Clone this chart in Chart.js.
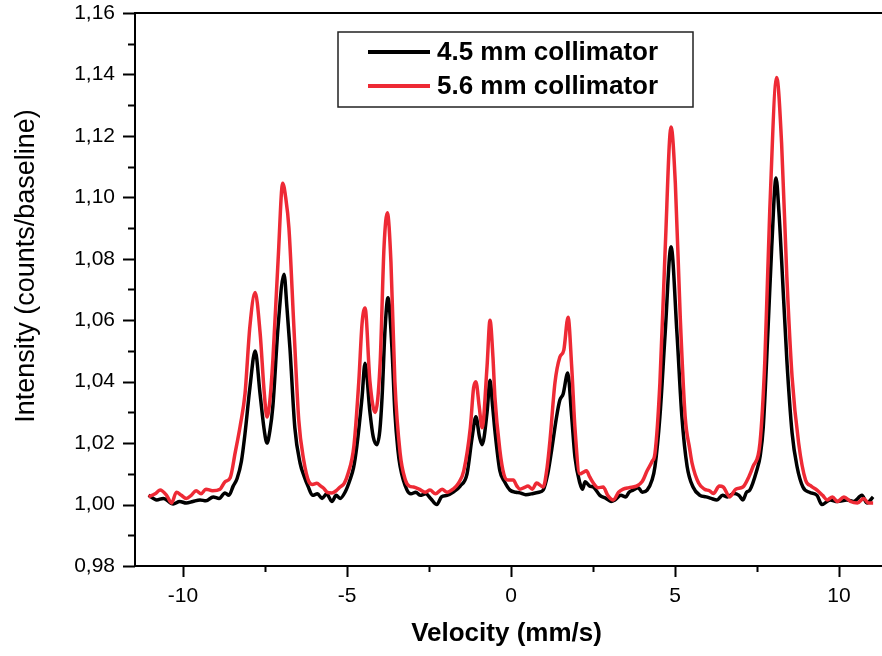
<!DOCTYPE html>
<html>
<head>
<meta charset="utf-8">
<title>Mössbauer spectra</title>
<script src="https://cdn.jsdelivr.net/npm/chart.js@4.4.0/dist/chart.umd.min.js"></script>
<style>
    html, body { margin: 0; padding: 0; background: #fff; }
    #wrap { width: 882px; height: 656px; position: relative; }
</style>
</head>
<body>
<div id="wrap"><canvas id="spectrum"></canvas></div>
<script>
// 4.5 mm collimator: velocity (mm/s) / intensity (counts/baseline)
const velocityBlack = [
    -11.05, -10.8, -10.6, -10.3, -10.1, -9.9, -9.7, -9.48, -9.3, -9.08, -8.9, -8.72, -8.6, -8.47, -8.35, -8.22,
    -8.11, -7.96, -7.8, -7.65, -7.52, -7.44, -7.35, -7.26, -7.1, -6.92, -6.83, -6.74, -6.59, -6.43, -6.3, -6.19,
    -6.05, -5.9, -5.76, -5.62, -5.46, -5.33, -5.21, -5.06, -4.91, -4.8, -4.7, -4.54, -4.45, -4.3, -4.2, -4.09,
    -4.0, -3.93, -3.84, -3.75, -3.63, -3.54, -3.45, -3.38, -3.17, -3.05, -2.9, -2.77, -2.6, -2.45, -2.26, -2.12,
    -1.95, -1.77, -1.55, -1.34, -1.19, -1.07, -0.96, -0.88, -0.73, -0.64, -0.56, -0.49, -0.34, -0.2, -0.03, 0.15,
    0.27, 0.45, 0.68, 0.85, 0.98, 1.12, 1.24, 1.39, 1.49, 1.59, 1.73, 1.85, 1.95, 2.1, 2.18, 2.26,
    2.4, 2.51, 2.71, 2.9, 3.05, 3.17, 3.35, 3.5, 3.6, 3.72, 3.88, 4.0, 4.15, 4.3, 4.39, 4.54,
    4.7, 4.88, 5.06, 5.21, 5.37, 5.55, 5.76, 5.95, 6.1, 6.28, 6.45, 6.6, 6.79, 6.95, 7.07, 7.18,
    7.28, 7.49, 7.6, 7.69, 7.84, 7.95, 8.08, 8.17, 8.25, 8.41, 8.57, 8.72, 8.9, 9.1, 9.33, 9.48,
    9.73, 9.95, 10.24, 10.45, 10.7, 10.85, 11.04
];
const intensityBlack = [
    1.003, 1.0015, 1.002, 1.0002, 1.001, 1.0005, 1.001, 1.0015, 1.0012, 1.0025, 1.002, 1.0038, 1.003, 1.006, 1.0085, 1.014,
    1.023, 1.038, 1.050, 1.036, 1.024, 1.020, 1.024, 1.032, 1.058, 1.075, 1.064, 1.051, 1.025, 1.0135, 1.009, 1.006,
    1.003, 1.0035, 1.002, 1.0035, 1.001, 1.003, 1.002, 1.004, 1.008, 1.012, 1.019, 1.035, 1.046, 1.030, 1.022, 1.0195,
    1.024, 1.035, 1.057, 1.0673, 1.051, 1.030, 1.018, 1.0124, 1.0047, 1.0035, 1.004, 1.003, 1.0035, 1.002, 1.000, 1.0025,
    1.003, 1.004, 1.006, 1.010, 1.0215, 1.0286, 1.022, 1.0195, 1.030, 1.0405, 1.032, 1.024, 1.011, 1.0075, 1.0047, 1.004,
    1.0038, 1.0032, 1.0036, 1.004, 1.0047, 1.010, 1.0178, 1.0286, 1.034, 1.036, 1.0428, 1.0286, 1.0155, 1.007, 1.005, 1.0074,
    1.006, 1.0057, 1.003, 1.002, 1.001, 1.0015, 1.003, 1.0025, 1.004, 1.0047, 1.0055, 1.004, 1.0047, 1.008, 1.0124, 1.0286,
    1.0557, 1.0839, 1.0557, 1.0286, 1.0124, 1.0057, 1.003, 1.0025, 1.002, 1.0015, 1.003, 1.0025, 1.0036, 1.003, 1.0015, 1.004,
    1.0047, 1.011, 1.016, 1.025, 1.058, 1.084, 1.1063, 1.095, 1.0796, 1.047, 1.0233, 1.0124, 1.0057, 1.004, 1.003, 1.000,
    1.0015, 1.001, 1.0015, 1.001, 1.003, 1.0005, 1.0025
];

// 5.6 mm collimator
const velocityRed = [
    -11.05, -10.85, -10.7, -10.5, -10.35, -10.2, -10.05, -9.9, -9.75, -9.6, -9.45, -9.3, -9.1, -8.87, -8.72, -8.56,
    -8.41, -8.25, -8.11, -7.96, -7.8, -7.65, -7.52, -7.44, -7.35, -7.26, -7.1, -6.96, -6.87, -6.77, -6.62, -6.47,
    -6.32, -6.16, -6.05, -5.92, -5.8, -5.72, -5.6, -5.46, -5.33, -5.21, -5.08, -4.97, -4.79, -4.64, -4.54, -4.45,
    -4.3, -4.14, -3.99, -3.87, -3.77, -3.66, -3.54, -3.38, -3.22, -3.1, -2.97, -2.8, -2.62, -2.47, -2.3, -2.1,
    -1.95, -1.77, -1.6, -1.44, -1.24, -1.14, -1.07, -0.97, -0.88, -0.73, -0.64, -0.55, -0.49, -0.34, -0.22, -0.1,
    0.07, 0.18, 0.27, 0.4, 0.52, 0.65, 0.78, 0.98, 1.1, 1.19, 1.34, 1.49, 1.61, 1.74, 1.85, 1.95,
    2.1, 2.2, 2.3, 2.4, 2.51, 2.65, 2.81, 2.95, 3.12, 3.28, 3.42, 3.6, 3.82, 4.0, 4.15, 4.3,
    4.39, 4.54, 4.7, 4.88, 5.01, 5.16, 5.31, 5.45, 5.52, 5.72, 5.9, 6.05, 6.17, 6.35, 6.47, 6.67,
    6.85, 7.07, 7.25, 7.38, 7.59, 7.74, 7.89, 8.1, 8.25, 8.41, 8.57, 8.77, 8.98, 9.15, 9.33, 9.5,
    9.64, 9.8, 9.95, 10.15, 10.35, 10.56, 10.75, 10.9, 11.04
];
const intensityRed = [
    1.0025, 1.0035, 1.0047, 1.003, 1.0005, 1.004, 1.003, 1.002, 1.003, 1.0045, 1.0035, 1.005, 1.0045, 1.005, 1.0074, 1.0087,
    1.0168, 1.026, 1.036, 1.058, 1.069, 1.056, 1.036, 1.0285, 1.034, 1.047, 1.0796, 1.1046, 1.100, 1.090, 1.058, 1.0275,
    1.0145, 1.0074, 1.0065, 1.0069, 1.006, 1.0054, 1.004, 1.0038, 1.0045, 1.0057, 1.007, 1.010, 1.019, 1.040, 1.059, 1.064,
    1.040, 1.030, 1.046, 1.084, 1.095, 1.079, 1.040, 1.0167, 1.008, 1.006, 1.0057, 1.005, 1.004, 1.0047, 1.0035, 1.005,
    1.004, 1.005, 1.007, 1.011, 1.025, 1.038, 1.040, 1.032, 1.025, 1.045, 1.060, 1.048, 1.035, 1.0178, 1.010, 1.008,
    1.008, 1.006, 1.005, 1.0055, 1.006, 1.005, 1.007, 1.0057, 1.012, 1.021, 1.0396, 1.048, 1.0503, 1.061, 1.045, 1.025,
    1.010, 1.0105, 1.011, 1.009, 1.007, 1.0055, 1.0057, 1.003, 1.0015, 1.004, 1.005, 1.0055, 1.006, 1.0075, 1.011, 1.014,
    1.0167, 1.0396, 1.0829, 1.1229, 1.1046, 1.061, 1.0286, 1.018, 1.0135, 1.007, 1.005, 1.0045, 1.0036, 1.006, 1.0057, 1.0025,
    1.005, 1.0057, 1.009, 1.0124, 1.020, 1.047, 1.0959, 1.139, 1.1176, 1.0741, 1.0415, 1.020, 1.008, 1.006, 1.0047, 1.003,
    1.0015, 1.0025, 1.001, 1.0025, 1.001, 1.0005, 1.002, 1.0005, 1.0005
];

const seriesNames = ['4.5 mm collimator', '5.6 mm collimator'];
const seriesColors = ['#000000', '#ee2a35'];

const xTicks = [-10, -5, 0, 5, 10];
const yTicks = [0.98, 1.00, 1.02, 1.04, 1.06, 1.08, 1.10, 1.12, 1.14, 1.16];

const FONT = '"Liberation Sans", Arial, Helvetica, sans-serif';

function toPoints(xs, ys) {
    return xs.map((v, i) => ({ x: v, y: ys[i] }));
}

// top frame line, major/minor tick marks, axis titles and the boxed legend
const decorations = {
    id: 'decorations',
    afterDraw(chart) {
        const ctx = chart.ctx;
        const area = chart.chartArea;
        const xs = chart.scales.x;
        const ys = chart.scales.y;
        ctx.save();
        ctx.strokeStyle = '#000';
        ctx.lineWidth = 2;

        ctx.beginPath();
        ctx.moveTo(area.left - 1, area.top);
        ctx.lineTo(area.right, area.top);
        ctx.stroke();

        // x ticks: majors from the scale, minors half way between
        ctx.beginPath();
        for (let i = 0; i < xTicks.length; i++) {
            const px = Math.round(xs.getPixelForValue(xTicks[i])) + 0.5;
            ctx.moveTo(px, area.bottom);
            ctx.lineTo(px, area.bottom + 11);
            if (i < xTicks.length - 1) {
                const mid = (xTicks[i] + xTicks[i + 1]) / 2;
                const pm = Math.round(xs.getPixelForValue(mid)) + 0.5;
                ctx.moveTo(pm, area.bottom);
                ctx.lineTo(pm, area.bottom + 6);
            }
        }
        // y ticks
        for (let i = 0; i < yTicks.length; i++) {
            const py = Math.round(ys.getPixelForValue(yTicks[i])) + 0.5;
            ctx.moveTo(area.left, py);
            ctx.lineTo(area.left - 12, py);
            if (i < yTicks.length - 1) {
                const mid = (yTicks[i] + yTicks[i + 1]) / 2;
                const pm = Math.round(ys.getPixelForValue(mid)) + 0.5;
                ctx.moveTo(area.left, pm);
                ctx.lineTo(area.left - 7, pm);
            }
        }
        ctx.stroke();

        // axis titles
        ctx.fillStyle = '#000';
        ctx.textAlign = 'center';
        ctx.textBaseline = 'middle';
        ctx.font = 'bold 26px ' + FONT;
        ctx.fillText('Velocity (mm/s)', (area.left + area.right) / 2 - 2, 634);
        ctx.save();
        ctx.translate(27, 266);
        ctx.rotate(-Math.PI / 2);
        ctx.font = '27px ' + FONT;
        ctx.fillText('Intensity (counts/baseline)', 0, 0);
        ctx.restore();

        // legend
        const box = { left: 338, top: 32, width: 355, height: 75 };
        ctx.lineWidth = 1.5;
        ctx.strokeStyle = '#222';
        ctx.strokeRect(box.left, box.top, box.width, box.height);
        ctx.font = 'bold 26px ' + FONT;
        ctx.textAlign = 'left';
        seriesNames.forEach((name, i) => {
            const cy = box.top + 20 + i * 34;
            ctx.strokeStyle = seriesColors[i];
            ctx.lineWidth = 4;
            ctx.beginPath();
            ctx.moveTo(box.left + 30, cy);
            ctx.lineTo(box.left + 92, cy);
            ctx.stroke();
            ctx.fillText(name, box.left + 99, cy + 1);
        });
        ctx.restore();
    }
};

new Chart(document.getElementById('spectrum'), {
    type: 'line',
    data: {
        datasets: [
            {
                label: seriesNames[0],
                data: toPoints(velocityBlack, intensityBlack),
                borderColor: seriesColors[0],
                borderWidth: 3.5,
                pointRadius: 0,
                cubicInterpolationMode: 'monotone',
                order: 2
            },
            {
                label: seriesNames[1],
                data: toPoints(velocityRed, intensityRed),
                borderColor: seriesColors[1],
                borderWidth: 3.5,
                pointRadius: 0,
                cubicInterpolationMode: 'monotone',
                order: 1
            }
        ]
    },
    options: {
        responsive: true,
        maintainAspectRatio: false,
        animation: false,
        devicePixelRatio: 1,
        layout: { padding: { top: 13, right: 0, left: 0, bottom: 0 } },
        plugins: {
            legend: { display: false },
            tooltip: { enabled: false }
        },
        scales: {
            x: {
                type: 'linear',
                min: -11.463,
                max: 11.311,
                afterFit: scale => {
                    scale.height = 90;
                    scale.paddingLeft = 0;
                    scale.paddingRight = 0;
                },
                afterBuildTicks: scale => { scale.ticks = xTicks.map(v => ({ value: v })); },
                grid: { display: true, drawOnChartArea: false, drawTicks: false },
                border: { display: true, color: '#000', width: 2 },
                ticks: {
                    padding: 18,
                    color: '#000',
                    font: { family: FONT, size: 21 },
                    callback: v => String(v)
                }
            },
            y: {
                min: 0.98,
                max: 1.16,
                afterFit: scale => {
                    scale.width = 135;
                    scale.paddingTop = 0;
                    scale.paddingBottom = 0;
                },
                afterBuildTicks: scale => { scale.ticks = yTicks.map(v => ({ value: v })); },
                grid: { display: true, drawOnChartArea: false, drawTicks: false },
                border: { display: true, color: '#000', width: 2 },
                ticks: {
                    padding: 20,
                    color: '#000',
                    font: { family: FONT, size: 21 },
                    callback: v => v.toFixed(2).replace('.', ',')
                }
            }
        }
    },
    plugins: [decorations]
});
</script>
</body>
</html>
